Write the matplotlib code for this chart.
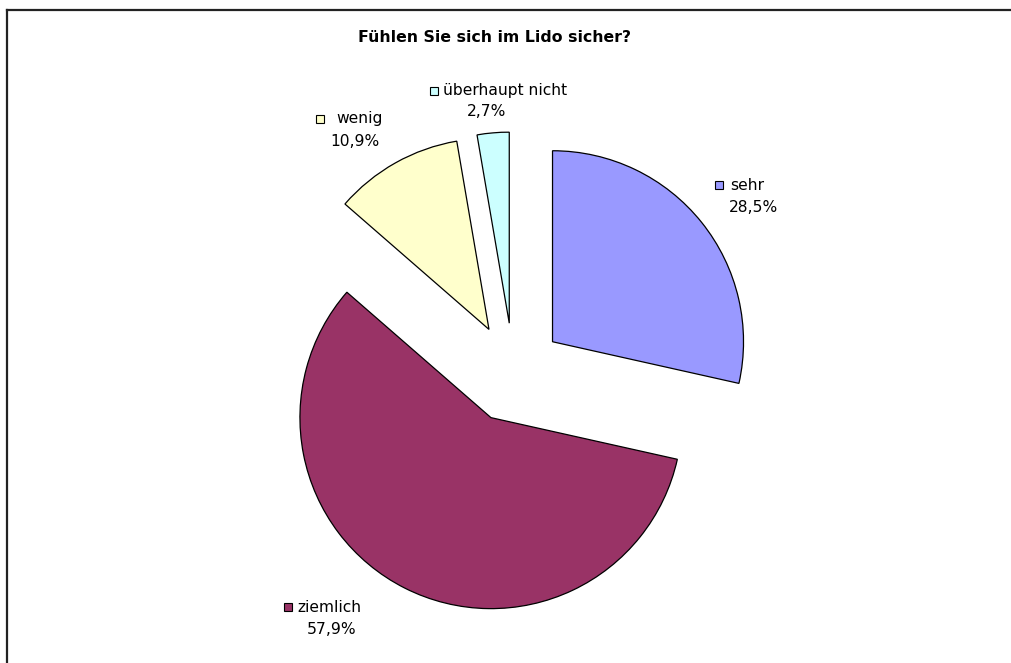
import matplotlib
matplotlib.use("Agg")
from matplotlib import pyplot as plt
from matplotlib.lines import Line2D

# Data
categories = ["sehr", "ziemlich", "wenig", "überhaupt nicht"]
shares = [28.5, 57.9, 10.9, 2.7]
pct_labels = ["28,5%", "57,9%", "10,9%", "2,7%"]
colors = ["#9999FF", "#993366", "#FFFFCC", "#CCFFFF"]
title = "Fühlen Sie sich im Lido sicher?"

# Layout (pixels, measured from top-left)
W, H = 1011, 663
center_px = (513.5, 373)
radius_px = 191
explode_px = 50  # pie explode is in data units, not fractions, once radius != 1
# marker centre, name x, pct x, pct y for each label
label_layout = [
    ((719, 185), 730, 729, 207),
    ((288, 607), 297, 307, 629),
    ((320, 119), 336, 330, 142),
    ((434, 91), 443, 467, 112),
]

fig = plt.figure(figsize=(W / 100, H / 100), dpi=100)
ax = fig.add_axes([0, 0, 1, 1])

ax.pie(shares, colors=colors, startangle=90, counterclock=False,
       explode=[explode_px] * len(shares), radius=radius_px,
       center=(center_px[0], H - center_px[1]),
       wedgeprops=dict(edgecolor="black", linewidth=0.9))
ax.set_xlim(0, W)
ax.set_ylim(0, H)
ax.set_aspect("auto")
ax.axis("off")

for i, name in enumerate(categories):
    (mx, my), nx, px, py = label_layout[i]
    ax.plot(mx, H - my, marker="s", markersize=6, markerfacecolor=colors[i],
            markeredgecolor="black", markeredgewidth=0.8)
    ax.text(nx, H - my, name, ha="left", va="center", fontsize=11.2, family="DejaVu Sans")
    ax.text(px, H - py, pct_labels[i], ha="left", va="center", fontsize=11.2, family="DejaVu Sans")

ax.text(495, H - 37, title, ha="center", va="center", fontsize=11.3, fontweight="bold",
        family="DejaVu Sans")

# Chart border (only top and left visible)
fig.add_artist(Line2D([7 / W, 7 / W], [0, 1 - 10 / H], transform=fig.transFigure,
                      color="#222222", linewidth=1.6))
fig.add_artist(Line2D([7 / W, 1], [1 - 10 / H, 1 - 10 / H], transform=fig.transFigure,
                      color="#222222", linewidth=1.6))

fig.savefig("out.png", dpi=100)
